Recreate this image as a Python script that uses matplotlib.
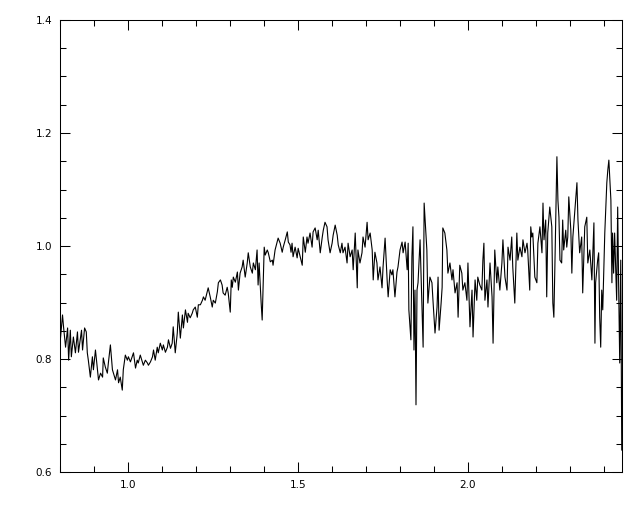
import matplotlib
matplotlib.use("Agg")
import matplotlib.pyplot as plt
from matplotlib.ticker import MultipleLocator

wavelength = [
    0.800, 0.806, 0.809, 0.815, 0.821, 0.824, 0.829, 0.832, 0.838, 0.844,
    0.850, 0.853, 0.862, 0.865, 0.871, 0.876, 0.879, 0.882, 0.888, 0.894,
    0.897, 0.903, 0.909, 0.912, 0.918, 0.924, 0.926, 0.932, 0.938, 0.941,
    0.947, 0.953, 0.956, 0.962, 0.968, 0.971, 0.976, 0.982, 0.985, 0.991,
    0.997, 1.000, 1.006, 1.015, 1.021, 1.026, 1.029, 1.035, 1.041, 1.044,
    1.050, 1.056, 1.059, 1.065, 1.071, 1.074, 1.079, 1.085, 1.088, 1.094,
    1.100, 1.103, 1.109, 1.115, 1.118, 1.124, 1.129, 1.132, 1.138, 1.144,
    1.147, 1.153, 1.159, 1.162, 1.168, 1.174, 1.176, 1.182, 1.188, 1.191,
    1.197, 1.203, 1.206, 1.212, 1.218, 1.221, 1.226, 1.232, 1.235, 1.241,
    1.247, 1.250, 1.256, 1.262, 1.265, 1.271, 1.276, 1.279, 1.285, 1.291,
    1.294, 1.300, 1.303, 1.306, 1.309, 1.315, 1.321, 1.324, 1.329, 1.335,
    1.338, 1.344, 1.350, 1.353, 1.359, 1.365, 1.368, 1.374, 1.379, 1.382,
    1.385, 1.391, 1.394, 1.397, 1.400, 1.403, 1.409, 1.412, 1.418, 1.424,
    1.426, 1.432, 1.438, 1.441, 1.447, 1.453, 1.456, 1.462, 1.468, 1.471,
    1.476, 1.479, 1.482, 1.485, 1.491, 1.497, 1.500, 1.506, 1.512, 1.515,
    1.521, 1.526, 1.529, 1.535, 1.541, 1.544, 1.550, 1.556, 1.559, 1.565,
    1.571, 1.574, 1.579, 1.585, 1.588, 1.594, 1.600, 1.603, 1.609, 1.615,
    1.618, 1.624, 1.629, 1.632, 1.638, 1.644, 1.647, 1.653, 1.659, 1.662,
    1.668, 1.674, 1.676, 1.682, 1.688, 1.691, 1.697, 1.703, 1.706, 1.712,
    1.718, 1.721, 1.726, 1.732, 1.735, 1.741, 1.747, 1.750, 1.756, 1.762,
    1.765, 1.771, 1.776, 1.779, 1.785, 1.791, 1.794, 1.800, 1.806, 1.809,
    1.815, 1.821, 1.824, 1.826, 1.832, 1.835, 1.838, 1.841, 1.844, 1.847,
    1.850, 1.853, 1.859, 1.865, 1.868, 1.871, 1.874, 1.879, 1.882, 1.888,
    1.894, 1.897, 1.903, 1.909, 1.912, 1.915, 1.921, 1.924, 1.926, 1.932,
    1.938, 1.941, 1.947, 1.953, 1.956, 1.962, 1.968, 1.971, 1.976, 1.982,
    1.985, 1.991, 1.997, 2.000, 2.006, 2.012, 2.015, 2.021, 2.026, 2.029,
    2.035, 2.041, 2.044, 2.047, 2.050, 2.056, 2.059, 2.065, 2.071, 2.074,
    2.079, 2.085, 2.088, 2.094, 2.100, 2.103, 2.109, 2.115, 2.118, 2.124,
    2.129, 2.132, 2.138, 2.144, 2.147, 2.153, 2.159, 2.162, 2.168, 2.174,
    2.176, 2.182, 2.185, 2.188, 2.191, 2.197, 2.203, 2.206, 2.212, 2.218,
    2.221, 2.224, 2.229, 2.232, 2.235, 2.241, 2.247, 2.250, 2.253, 2.256,
    2.262, 2.265, 2.268, 2.271, 2.276, 2.279, 2.282, 2.288, 2.291, 2.294,
    2.297, 2.303, 2.306, 2.309, 2.315, 2.321, 2.324, 2.329, 2.335, 2.338,
    2.344, 2.350, 2.353, 2.359, 2.365, 2.368, 2.371, 2.374, 2.376, 2.382,
    2.385, 2.388, 2.391, 2.394, 2.397, 2.403, 2.409, 2.412, 2.415, 2.421,
    2.424, 2.426, 2.429, 2.432, 2.438, 2.441, 2.444, 2.447, 2.450, 2.453,
]

flux = [
    0.837, 0.878, 0.857, 0.821, 0.855, 0.798, 0.851, 0.804, 0.839, 0.811,
    0.848, 0.812, 0.851, 0.816, 0.855, 0.848, 0.811, 0.798, 0.768, 0.804,
    0.781, 0.816, 0.781, 0.763, 0.775, 0.768, 0.802, 0.786, 0.775, 0.793,
    0.825, 0.781, 0.775, 0.763, 0.781, 0.758, 0.768, 0.745, 0.781, 0.807,
    0.798, 0.804, 0.795, 0.811, 0.784, 0.798, 0.793, 0.807, 0.795, 0.789,
    0.798, 0.793, 0.789, 0.795, 0.804, 0.816, 0.798, 0.821, 0.811, 0.828,
    0.816, 0.825, 0.812, 0.821, 0.834, 0.819, 0.828, 0.857, 0.811, 0.846,
    0.883, 0.837, 0.878, 0.855, 0.887, 0.865, 0.881, 0.873, 0.881, 0.887,
    0.892, 0.874, 0.896, 0.896, 0.904, 0.910, 0.904, 0.919, 0.926, 0.910,
    0.892, 0.904, 0.899, 0.919, 0.935, 0.940, 0.931, 0.917, 0.913, 0.927,
    0.917, 0.883, 0.940, 0.927, 0.945, 0.936, 0.954, 0.922, 0.952, 0.963,
    0.975, 0.945, 0.970, 0.988, 0.963, 0.952, 0.970, 0.958, 0.993, 0.931,
    0.970, 0.899, 0.869, 0.935, 0.998, 0.984, 0.993, 0.988, 0.972, 0.975,
    0.966, 0.993, 1.007, 1.014, 1.005, 0.989, 0.998, 1.011, 1.025, 1.007,
    1.002, 0.989, 1.005, 0.981, 0.998, 0.979, 0.996, 0.981, 0.966, 1.016,
    0.989, 1.016, 1.005, 1.023, 0.998, 1.025, 1.032, 1.011, 1.028, 0.988,
    1.016, 1.028, 1.042, 1.034, 1.011, 0.988, 1.005, 1.019, 1.037, 1.019,
    1.002, 0.988, 1.005, 0.988, 0.998, 0.970, 1.005, 0.981, 0.993, 0.958,
    1.023, 0.926, 0.993, 0.970, 0.988, 1.016, 0.998, 1.042, 1.011, 1.023,
    0.993, 0.940, 0.989, 0.970, 0.940, 0.963, 0.926, 0.963, 1.014, 0.940,
    0.910, 0.958, 0.949, 0.958, 0.910, 0.954, 0.963, 0.993, 1.007, 0.988,
    1.007, 0.958, 1.005, 0.887, 0.834, 0.981, 1.034, 0.816, 0.922, 0.719,
    0.922, 0.935, 1.011, 0.887, 0.821, 1.076, 1.046, 0.993, 0.899, 0.945,
    0.935, 0.904, 0.846, 0.892, 0.945, 0.851, 0.899, 0.927, 1.032, 1.023,
    0.993, 0.952, 0.970, 0.940, 0.958, 0.917, 0.935, 0.874, 0.966, 0.952,
    0.922, 0.935, 0.904, 0.970, 0.857, 0.922, 0.839, 0.940, 0.904, 0.945,
    0.931, 0.922, 0.975, 1.005, 0.904, 0.940, 0.892, 0.970, 0.910, 0.828,
    0.993, 0.935, 0.963, 0.922, 0.970, 1.011, 0.945, 0.922, 0.998, 0.975,
    1.016, 0.963, 0.899, 1.023, 0.975, 0.998, 0.981, 1.011, 0.988, 1.005,
    0.993, 0.922, 1.034, 1.016, 1.023, 0.945, 0.935, 1.005, 1.034, 0.988,
    1.076, 1.011, 1.046, 0.910, 1.023, 1.069, 1.034, 0.899, 0.874, 0.963,
    1.158, 1.081, 1.051, 0.975, 0.970, 1.046, 0.993, 1.028, 0.998, 1.016,
    1.087, 1.028, 0.952, 1.016, 1.064, 1.112, 1.046, 0.988, 1.016, 0.917,
    1.034, 1.051, 0.970, 0.993, 0.940, 0.988, 1.041, 0.828, 0.935, 0.975,
    0.988, 0.874, 0.821, 0.922, 0.887, 1.023, 1.112, 1.135, 1.152, 1.081,
    0.935, 1.023, 0.952, 1.023, 0.904, 1.069, 0.922, 0.793, 0.975, 0.639,
]

x_limits = (0.8, 2.453)
y_limits = (0.6, 1.4)

fig = plt.figure(figsize=(6.4, 5.12), dpi=100)
ax = fig.add_axes([0.0945, 0.078, 0.877, 0.883])
ax.plot(wavelength, flux, color="black", linewidth=0.8)

ax.set_xlim(*x_limits)
ax.set_ylim(*y_limits)
ax.xaxis.set_major_locator(MultipleLocator(0.5))
ax.xaxis.set_minor_locator(MultipleLocator(0.1))
ax.yaxis.set_major_locator(MultipleLocator(0.2))
ax.yaxis.set_minor_locator(MultipleLocator(0.05))
ax.xaxis.set_major_formatter(plt.FuncFormatter(lambda v, p: f"{v:.1f}"))
ax.yaxis.set_major_formatter(plt.FuncFormatter(lambda v, p: f"{v:.1f}"))

ax.tick_params(which="both", direction="in", top=True, right=True,
               width=0.75, labelsize=7.5, color="black")
ax.tick_params(which="major", length=7)
ax.tick_params(which="minor", length=4.3)
ax.tick_params(axis="x", which="major", pad=6)
ax.tick_params(axis="y", which="major", pad=6)
for s in ax.spines.values():
    s.set_linewidth(0.75)

fig.savefig("out.png", dpi=100)
